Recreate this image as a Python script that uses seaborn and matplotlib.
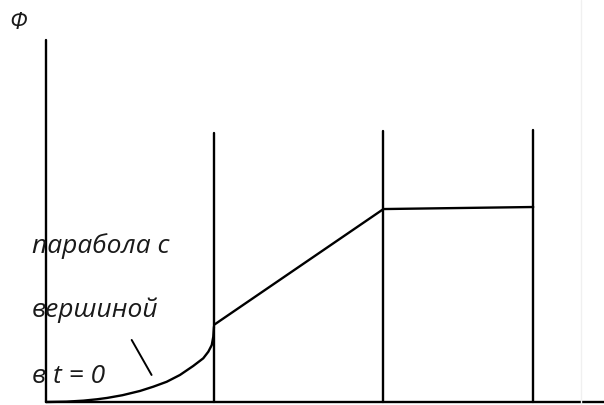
import pandas as pd
import numpy as np
import matplotlib
matplotlib.use("Agg")
import matplotlib.pyplot as plt
import seaborn as sns

# values (t in arbitrary units, phi in same units)
t_curve = [0.0, 0.12, 0.22, 0.30, 0.36, 0.45, 0.553, 0.631, 0.710,
           0.788, 0.866, 0.925, 0.955, 0.975, 0.984, 0.988]
phi_curve = [0.0, 0.002, 0.008, 0.016, 0.024, 0.04, 0.065, 0.090, 0.119,
             0.159, 0.212, 0.257, 0.296, 0.335, 0.384, 0.443]

t_ramp = [0.99, 1.985]
phi_ramp = [0.455, 1.135]

t_flat = [1.985, 2.866]
phi_flat = [1.135, 1.147]

t_marks = [0.99, 1.985, 2.866]
mark_tops = [1.58, 1.594, 1.6]

axis_top = 2.13
axis_right = 3.3

pointer_t = [0.504, 0.621]
pointer_phi = [0.365, 0.159]

note_lines = ["парабола с", "вершиной", "в t = 0"]
note_phi = [0.876, 0.502, 0.114]


def seg(ax, x, y, lw):
    sns.lineplot(x=x, y=y, sort=False, estimator=None, color='black',
                 lw=lw, ax=ax)


def main():
    sns.set_theme(style="white")
    plt.rcParams['font.family'] = ['Open Sans', 'DejaVu Sans']

    fig = plt.figure(figsize=(6.04, 4.05), dpi=100)
    ax = fig.add_axes([0, 0, 1, 1])
    lw = 1.7

    # axes of the sketch
    seg(ax, [0, 0], [0, axis_top], lw)
    seg(ax, [0, axis_right], [0, 0], lw)

    # vertical marks
    for t, top in zip(t_marks, mark_tops):
        seg(ax, [t, t], [0, top], lw)

    df = pd.DataFrame({'t': t_curve, 'phi': phi_curve})
    sns.lineplot(data=df, x='t', y='phi', sort=False, estimator=None,
                 color='black', lw=lw, ax=ax)
    seg(ax, t_ramp, phi_ramp, lw)
    seg(ax, t_flat, phi_flat, lw)
    seg(ax, pointer_t, pointer_phi, 1.4)

    # faint scan edge
    ax.axvline(3.147, color='#f0f0f0', lw=1)

    for txt, p in zip(note_lines, note_phi):
        ax.text(-0.082, p, txt, fontsize=19, style='italic',
                color='#1a1a1a', va='baseline', ha='left')

    ax.text(-0.165, 2.23, 'Φ', fontsize=17, style='italic',
            color='#1a1a1a', va='center', ha='center')

    ax.set_xlim(-46 / 170, 558 / 170)
    ax.set_ylim(-3 / 170, 402 / 170)
    ax.set_axis_off()

    fig.savefig('out.png', dpi=100, facecolor='white')


main()
